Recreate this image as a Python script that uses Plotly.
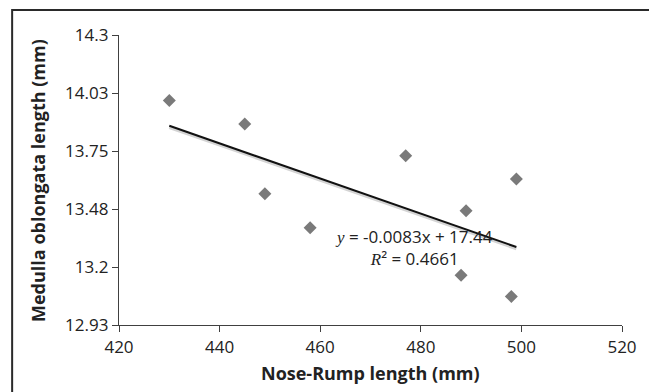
import plotly.graph_objects as go

# Data
nose_rump = [430, 445, 449, 458, 477, 488, 489, 498, 499]
medulla = [13.99, 13.88, 13.55, 13.39, 13.73, 13.165, 13.47, 13.065, 13.62]

# Trendline from the chart's equation label
trend_slope = -0.0083
trend_intercept = 17.44
r_squared = 0.4661

x_ticks = [420, 440, 460, 480, 500, 520]
y_tick_vals = [12.93, 13.204, 13.478, 13.752, 14.026, 14.3]
y_tick_text = ["12.93", "13.2", "13.48", "13.75", "14.03", "14.3"]

FONT = "Open Sans"
W, H = 649, 392
L, R, T, B = 119, 24, 35, 67
pw, ph = W - L - R, H - T - B

x_min, x_max = min(nose_rump), max(nose_rump)
tx = [x_min, x_max]
ty = [trend_slope * v + trend_intercept for v in tx]
shadow_dy = 0.008
ty_shadow = [v - shadow_dy for v in ty]

fig = go.Figure()
fig.add_trace(go.Scatter(x=tx, y=ty_shadow, mode="lines",
                         line=dict(color="#d4d4d4", width=3), hoverinfo="skip"))
fig.add_trace(go.Scatter(x=tx, y=ty, mode="lines",
                         line=dict(color="#111111", width=2), hoverinfo="skip"))
fig.add_trace(go.Scatter(x=nose_rump, y=medulla, mode="markers",
                         marker=dict(symbol="diamond", size=10, color="#7a7a7a",
                                     line=dict(width=0))))

def px_x(p):
    return (p - L) / pw

def px_y(p):
    return (H - B - p) / ph

eq_text = (f"<i><span style=\"font-family:'Liberation Serif'\">y</span></i> = "
           f"{trend_slope}x + {trend_intercept}<br>"
           f"<i><span style=\"font-family:'Liberation Serif'\">R</span></i>² = {r_squared}")

fig.update_layout(
    width=W, height=H,
    margin=dict(l=L, r=R, t=T, b=B),
    paper_bgcolor="white", plot_bgcolor="white",
    showlegend=False,
    font=dict(family=FONT, size=17, color="#222222"),
    xaxis=dict(range=[420, 520], tickvals=x_ticks, ticks="outside", ticklen=6,
               tickcolor="#404040", tickwidth=1.3, showline=True, linecolor="#404040",
               linewidth=1.3, showgrid=False, zeroline=False,
               tickfont=dict(family=FONT, size=17, color="#222222")),
    yaxis=dict(range=[12.93, 14.3], tickvals=y_tick_vals, ticktext=y_tick_text,
               ticks="outside", ticklen=6, tickcolor="#404040", tickwidth=1.3,
               showline=True, linecolor="#404040", linewidth=1.3, showgrid=False,
               zeroline=False, tickfont=dict(family=FONT, size=17, color="#222222")),
    annotations=[
        dict(text="Nose-Rump length (mm)", xref="paper", yref="paper",
             x=0.5, y=px_y(373), xanchor="center", yanchor="middle", showarrow=False,
             font=dict(family=FONT, size=18, color="#222222", weight="bold")),
        dict(text="Medulla oblongata length (mm)", xref="paper", yref="paper",
             x=px_x(37.5), y=0.5, xanchor="center", yanchor="middle", showarrow=False,
             textangle=-90,
             font=dict(family=FONT, size=18, color="#222222", weight="bold")),
        dict(text=eq_text, xref="paper", yref="paper", x=px_x(416), y=px_y(247.5),
             xanchor="center", yanchor="middle", showarrow=False, align="center",
             font=dict(family=FONT, size=17, color="#222222")),
    ],
    shapes=[
        dict(type="rect", xref="paper", yref="paper", x0=px_x(11.5), x1=px_x(660),
             y0=px_y(400), y1=px_y(10), line=dict(color="#2a2a2a", width=2),
             fillcolor="rgba(0,0,0,0)", layer="below"),
    ],
)

fig.write_html("out.html", config={"displayModeBar": False},
               post_script="document.body.style.margin='0';document.body.style.overflow='hidden';")
